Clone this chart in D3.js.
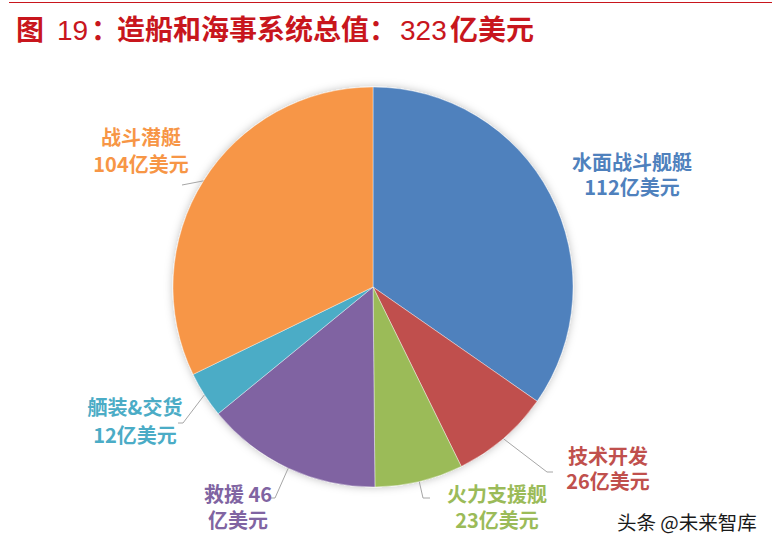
<!DOCTYPE html>
<html><head><meta charset="utf-8">
<script src="https://cdn.jsdelivr.net/npm/d3@7"></script>
<style>
html,body{margin:0;padding:0;background:#fff;}
svg{display:block;}
</style></head>
<body><svg id="c" width="772" height="549"></svg>
<script>
// ---- data ----
const categories = ["水面战斗舰艇","技术开发","火力支援舰","救援","舾装&交货","战斗潜艇"];
const values = [112, 26, 23, 46, 12, 104];
const unit = "亿美元";
const titleParts = ["图", "19", "：", "造船和海事系统总值：", "323", "亿美元"];

// ---- styles / layout ----
const colors = ["#4f81bd","#c0504d","#9bbb59","#8064a2","#4bacc6","#f79646"];
const labelLayout = [
  {x:632, y:[170,195], lines:d=>[d.cat, d.v+unit], leader:null},
  {x:608, y:[464,489], lines:d=>[d.cat, d.v+unit], leader:[[547,472],[553,472]]},
  {x:497, y:[502,528], lines:d=>[d.cat, d.v+unit], leader:[[423,498],[430,498]]},
  {x:238, y:[502,528], lines:d=>[d.cat+" "+d.v, unit], leader:[[275,498],[271,498]]},
  {x:135, y:[415,443], lines:d=>[d.cat, d.v+unit], leader:[[183,423],[178,423]]},
  {x:141, y:[145,172], lines:d=>[d.cat, d.v+unit], leader:[[182,185]]}
];

const svg = d3.select("#c");
const W = 772, H = 549;
const cx = 373, cy = 287, R = 200;

// top rule
svg.append("line").attr("x1",9).attr("x2",W).attr("y1",2.5).attr("y2",2.5)
  .attr("stroke","#c8161d").attr("stroke-width",1.2);

// title
const title = svg.append("text").attr("y",40).attr("fill","#c8161d")
  .attr("font-family","'Noto Sans CJK SC', sans-serif").attr("font-size",28).attr("font-weight","bold");
const tx = [16, 57, 91, 117, 400, 450];
titleParts.forEach((t,i)=>{
  const isNum = /^\d/.test(t);
  title.append("tspan").attr("x",tx[i]).text(t)
    .attr("font-family", isNum ? "'Liberation Sans', Arial, sans-serif" : "'Noto Sans CJK SC', sans-serif")
    .attr("font-weight", isNum ? "normal" : "bold");
});

// shadow filter
const defs = svg.append("defs");
const f = defs.append("filter").attr("id","sh").attr("x","-20%").attr("y","-20%").attr("width","140%").attr("height","140%");
f.append("feDropShadow").attr("dx",0).attr("dy",0).attr("stdDeviation",4)
  .attr("flood-color","#000").attr("flood-opacity",0.25);

const data = categories.map((c,i)=>({cat:c, v:values[i], color:colors[i], lay:labelLayout[i]}));
const pie = d3.pie().value(d=>d.v).sort(null).startAngle(0).endAngle(2*Math.PI);
const arcs = pie(data);
const arc = d3.arc().innerRadius(0).outerRadius(R);

const g = svg.append("g").attr("transform",`translate(${cx},${cy})`);
const pg = g.append("g").attr("filter","url(#sh)");
pg.selectAll("path").data(arcs).join("path")
  .attr("d",arc).attr("fill",d=>d.data.color)
  .attr("stroke","#fff").attr("stroke-width",0.4);

// leader lines
arcs.forEach(a=>{
  const L = a.data.lay;
  if(!L.leader) return;
  const mid = (a.startAngle+a.endAngle)/2;
  const p0 = [cx + R*Math.sin(mid), cy - R*Math.cos(mid)];
  const pts = [p0].concat(L.leader);
  svg.append("path").attr("d", d3.line()(pts))
    .attr("fill","none").attr("stroke","#a6a6a6").attr("stroke-width",1);
});

// labels
arcs.forEach(a=>{
  const L = a.data.lay;
  const lines = L.lines(a.data);
  const t = svg.append("text").attr("text-anchor","middle")
    .attr("font-family","'Noto Sans CJK SC', sans-serif").attr("font-size",20)
    .attr("font-weight","bold").attr("fill",a.data.color);
  lines.forEach((ln,i)=>{
    t.append("tspan").attr("x",L.x).attr("y",L.y[i]).text(ln);
  });
});

// watermark
svg.append("text").attr("x",617).attr("y",530)
  .attr("font-family","'Noto Sans CJK SC', sans-serif").attr("font-size",19.5)
  .attr("fill","#1a1a1a").text("头条 @未来智库");
</script>
</body></html>
